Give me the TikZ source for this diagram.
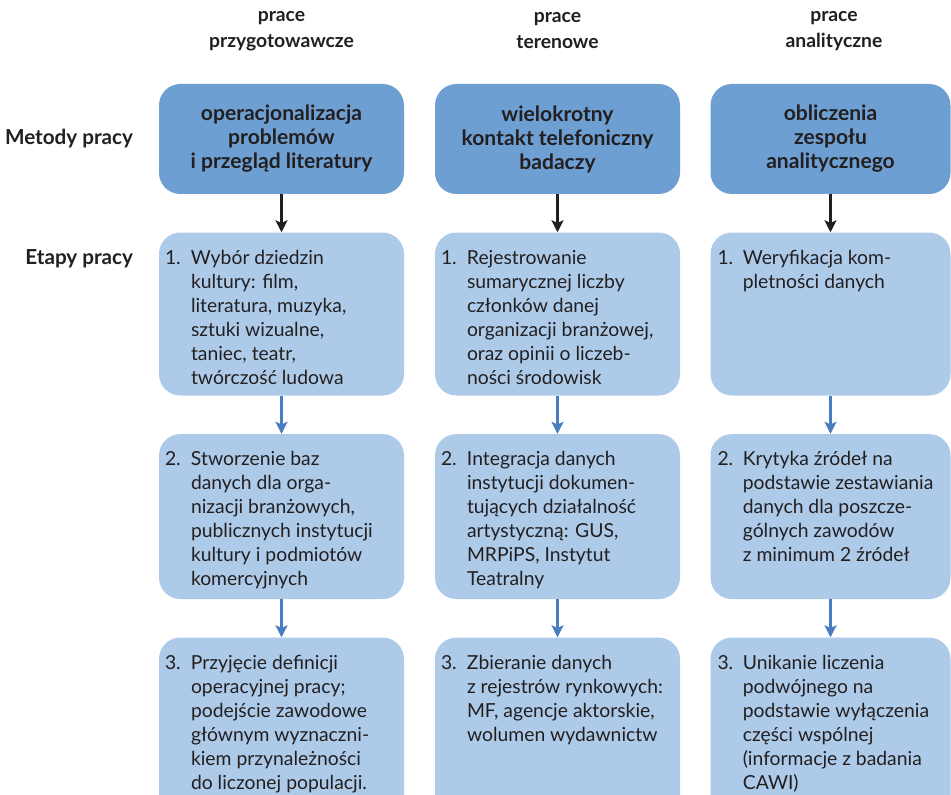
\documentclass[tikz,border=0pt]{standalone}
\usepackage{fontspec}
\setmainfont{Lato}
\usepackage{xcolor}
\usepackage{tikz}
\usetikzlibrary{arrows.meta}
\usetikzlibrary{positioning}
\definecolor{headblue}{HTML}{6E9FD3}
\definecolor{stageblue}{HTML}{ADCBE9}
\definecolor{arrowblue}{HTML}{4A7DC0}
\definecolor{inkdark}{HTML}{231F20}
\tikzset{>={Stealth[length=9pt, width=9pt, inset=2pt]}}

\begin{document}
\begin{tikzpicture}[
				x=0.75pt, y=-0.75pt,
				font=\fontsize{14.5}{18}\selectfont,
				text=inkdark,
				node distance=28.5pt,
				headbox/.style = {
					rectangle, fill=headblue,
					rounded corners=16pt,
					minimum height=82.5pt, inner sep=0pt,
					align=center,
					font=\fontsize{15.8}{18}\selectfont\bfseries
				},
				stagebox/.style = {
					rectangle, fill=stageblue,
					rounded corners=16pt,
					inner sep=0pt
				},
				stagetext/.style = {
					anchor=base west, inner sep=0pt
				},
				coltitle/.style = {
					align=center,
					font=\fontsize{14.5}{19.5}\selectfont\bfseries
				},
				rowlabel/.style = {
					anchor=base east,
					font=\fontsize{15.5}{18}\selectfont\bfseries
				},
				headarrow/.style = {->, line width=1.9pt, draw=inkdark},
				flowarrow/.style = {->, line width=1.9pt, draw=arrowblue}
			]
				\clip (0,0) rectangle (951,795);
				% column titles
				\node[coltitle] (c1) at (281.5,31) {prace\\przygotowawcze};
				\node[coltitle] (c2) at (557.5,31) {prace\\terenowe};
				\node[coltitle] (c3) at (834,31) {prace\\analityczne};
				% methods
				\node[headbox, minimum width=183.75pt] (m1) at (281.5,139)
					{operacjonalizacja\\problemów\\i przegląd literatury};
				\node[headbox, minimum width=183.75pt] (m2) at (557.5,139)
					{wielokrotny\\kontakt telefoniczny\\badaczy};
				\node[headbox, minimum width=180pt] (m3) at (830.5,139)
					{obliczenia\\zespołu\\analitycznego};
				% stages
				\node[stagebox, minimum width=183.75pt, minimum height=122.25pt, below=of m1] (s11) {};
				\node[stagebox, minimum width=183.75pt, minimum height=123.75pt, below=of s11] (s12) {};
				\node[stagebox, minimum width=183.75pt, minimum height=142.5pt, below=of s12] (s13) {};
				\node[stagebox, minimum width=183.75pt, minimum height=122.25pt, below=of m2] (s21) {};
				\node[stagebox, minimum width=183.75pt, minimum height=123.75pt, below=of s21] (s22) {};
				\node[stagebox, minimum width=183.75pt, minimum height=142.5pt, below=of s22] (s23) {};
				\node[stagebox, minimum width=180pt, minimum height=122.25pt, below=of m3] (s31) {};
				\node[stagebox, minimum width=180pt, minimum height=123.75pt, below=of s31] (s32) {};
				\node[stagebox, minimum width=180pt, minimum height=142.5pt, below=of s32] (s33) {};
				% stage texts
				\node[stagetext] (t11) at ([shift={(6,32)}]s11.north west)
					{\begin{tabular}[t]{@{}p{19.5pt}@{}l@{}}
					1. & Wybór dziedzin\\
					& kultury: film,\\
					& literatura, muzyka,\\
					& sztuki wizualne,\\
					& taniec, teatr,\\
					& twórczość ludowa
					\end{tabular}};
				\node[stagetext] (t12) at ([shift={(6,32)}]s12.north west)
					{\begin{tabular}[t]{@{}p{19.5pt}@{}l@{}}
					2. & Stworzenie baz\\
					& danych dla orga-\\
					& nizacji branżowych,\\
					& publicznych instytucji\\
					& kultury i podmiotów\\
					& komercyjnych
					\end{tabular}};
				\node[stagetext] (t13) at ([shift={(6,32)}]s13.north west)
					{\begin{tabular}[t]{@{}p{19.5pt}@{}l@{}}
					3. & Przyjęcie definicji\\
					& operacyjnej pracy;\\
					& podejście zawodowe\\
					& głównym wyznaczni-\\
					& kiem przynależności\\
					& do liczonej populacji.
					\end{tabular}};
				\node[stagetext] (t21) at ([shift={(6,32)}]s21.north west)
					{\begin{tabular}[t]{@{}p{19.5pt}@{}l@{}}
					1. & Rejestrowanie\\
					& sumarycznej liczby\\
					& członków danej\\
					& organizacji branżowej,\\
					& oraz opinii o liczeb-\\
					& ności środowisk
					\end{tabular}};
				\node[stagetext] (t22) at ([shift={(6,32)}]s22.north west)
					{\begin{tabular}[t]{@{}p{19.5pt}@{}l@{}}
					2. & Integracja danych\\
					& instytucji dokumen-\\
					& tujących działalność\\
					& artystyczną: GUS,\\
					& MRPiPS, Instytut\\
					& Teatralny
					\end{tabular}};
				\node[stagetext] (t23) at ([shift={(6,32)}]s23.north west)
					{\begin{tabular}[t]{@{}p{19.5pt}@{}l@{}}
					3. & Zbieranie danych\\
					& z rejestrów rynkowych:\\
					& MF, agencje aktorskie,\\
					& wolumen wydawnictw
					\end{tabular}};
				\node[stagetext] (t31) at ([shift={(7,32)}]s31.north west)
					{\begin{tabular}[t]{@{}p{19pt}@{}l@{}}
					1. & Weryfikacja kom-\\
					& pletności danych
					\end{tabular}};
				\node[stagetext] (t32) at ([shift={(7,32)}]s32.north west)
					{\begin{tabular}[t]{@{}p{19pt}@{}l@{}}
					2. & Krytyka źródeł na\\
					& podstawie zestawiania\\
					& danych dla poszcze-\\
					& gólnych zawodów\\
					& z minimum 2 źródeł
					\end{tabular}};
				\node[stagetext] (t33) at ([shift={(7,32)}]s33.north west)
					{\begin{tabular}[t]{@{}p{19pt}@{}l@{}}
					3. & Unikanie liczenia\\
					& podwójnego na\\
					& podstawie wyłączenia\\
					& części wspólnej\\
					& (informacje z badania\\
					& CAWI)
					\end{tabular}};
				% row labels
				\node[rowlabel, anchor=east, left=15.75pt of m1] (lm) {Metody pracy};
				\node[rowlabel] (le) at ([xshift=-20.25pt]t11.base west) {Etapy pracy};
				% arrows
				\draw[headarrow] (m1) -- (s11);
				\draw[headarrow] (m2) -- (s21);
				\draw[headarrow] (m3) -- (s31);
				\draw[flowarrow] (s11) -- (s12);
				\draw[flowarrow] (s12) -- (s13);
				\draw[flowarrow] (s21) -- (s22);
				\draw[flowarrow] (s22) -- (s23);
				\draw[flowarrow] (s31) -- (s32);
				\draw[flowarrow] (s32) -- (s33);
			\end{tikzpicture}
\end{document}
